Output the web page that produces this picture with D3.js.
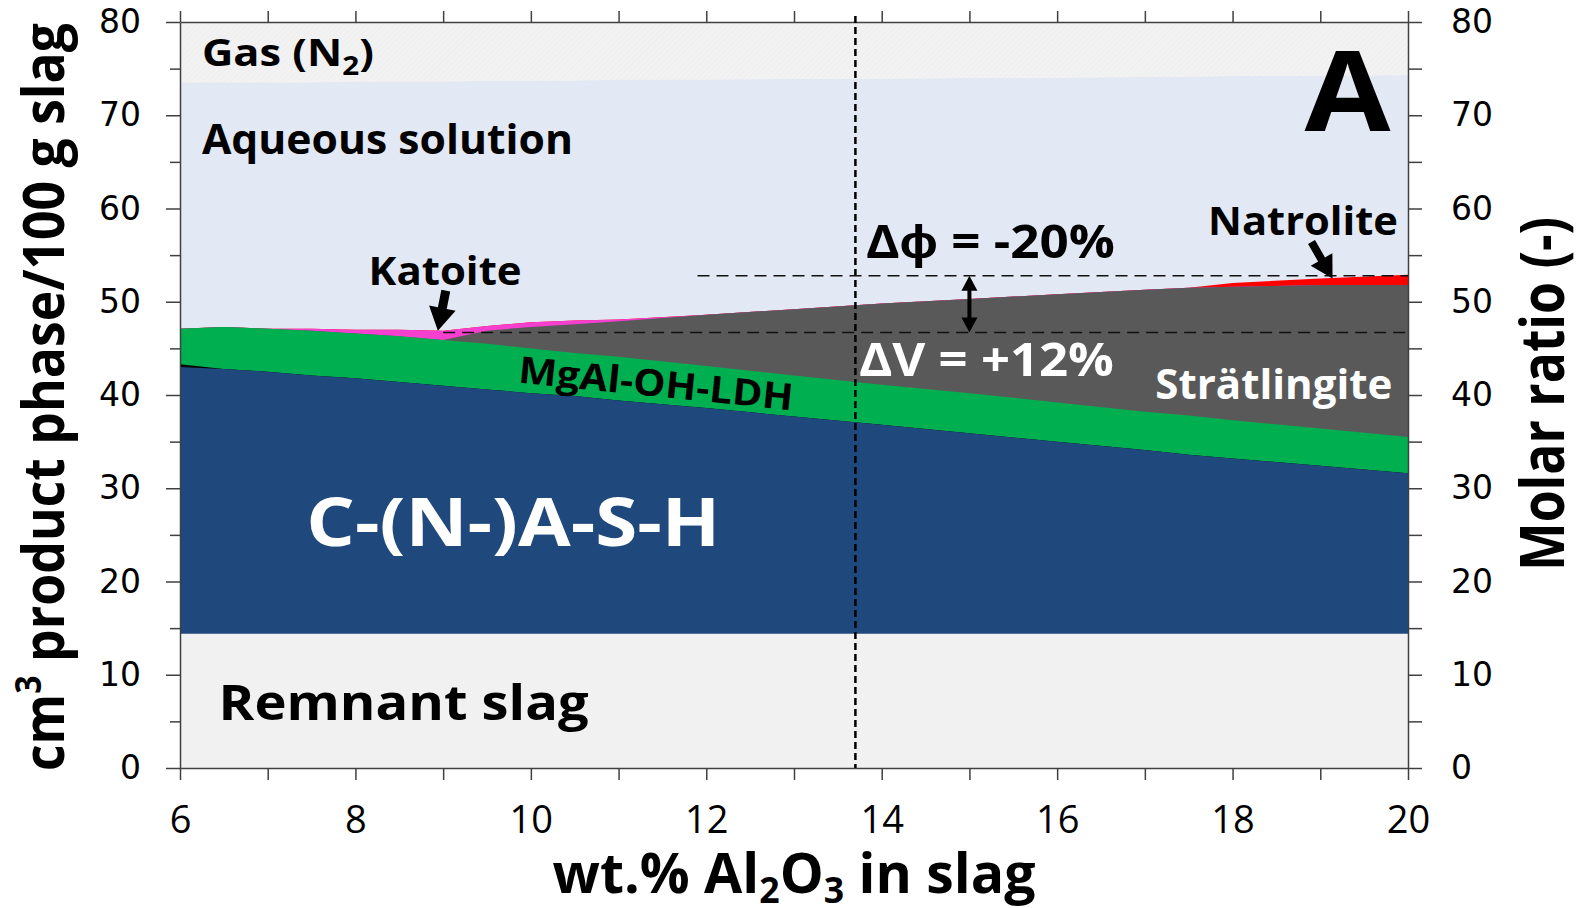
<!DOCTYPE html>
<html>
<head>
<meta charset="utf-8">
<script src="https://cdn.jsdelivr.net/npm/d3@7"></script>
<style>
	body { margin: 0; background: #fff; }
	svg { display: block; }
	.axis path, .axis line { stroke: #404040; stroke-width: 1.5; }
</style>
</head>
<body>
<div id="chart"></div>
<script>
// wt.% Al2O3 in slag
const xValues = [6, 6.5, 7, 7.5, 8, 8.5, 9, 9.5, 10, 10.5, 11, 12, 13, 14, 15, 16, 17, 17.5, 18, 19, 20];

// phase volumes, cm3 / 100 g slag (stacked from bottom)
const remnantSlag  = [14.4, 14.4, 14.4, 14.4, 14.4, 14.4, 14.4, 14.4, 14.4, 14.4, 14.4, 14.4, 14.4, 14.4, 14.4, 14.4, 14.4, 14.4, 14.4, 14.4, 14.4];
const cash         = [28.6, 28.4, 28.1, 27.7, 27.4, 27.0, 26.6, 26.2, 25.8, 25.5, 25.0, 24.2, 23.3, 22.4, 21.5, 20.6, 19.7, 19.2, 18.8, 18.0, 17.2];
const blackPhase   = [0.3, 0, 0, 0, 0, 0, 0, 0, 0, 0, 0, 0, 0, 0, 0, 0, 0, 0, 0, 0, 0];
const mgalLdh      = [3.8, 4.5, 4.6, 4.8, 4.8, 4.9, 4.9, 4.9, 4.8, 4.6, 4.7, 4.5, 4.4, 4.3, 4.3, 4.2, 4.1, 4.2, 4.1, 4.0, 3.9];
const stratlingite = [0, 0, 0, 0, 0, 0, 0, 1.4, 2.3, 3.1, 3.8, 5.5, 7.1, 8.7, 10.1, 11.6, 13.1, 13.7, 14.3, 15.4, 16.3];
const katoite      = [0, 0, 0, 0.2, 0.4, 0.7, 1.0, 0.5, 0.5, 0.4, 0.2, 0, 0, 0, 0, 0, 0, 0, 0, 0, 0];
const natrolite    = [0, 0, 0, 0, 0, 0, 0, 0, 0, 0, 0, 0, 0, 0, 0, 0, 0, 0, 0.4, 0.7, 1.1];
const aqueousTop   = [73.5, 73.5, 73.5, 73.5, 73.6, 73.6, 73.6, 73.7, 73.7, 73.7, 73.8, 73.8, 73.9, 73.9, 74.0, 74.0, 74.1, 74.1, 74.2, 74.2, 74.3];

const xTicks = [6, 8, 10, 12, 14, 16, 18, 20];
const yTicks = [0, 10, 20, 30, 40, 50, 60, 70, 80];

// annotation values
const refAl2O3 = 13.7;
const phiLevel = 52.8, phiStart = 11.9;
const vLevel = 46.7, vStart = 9.0;

const width = 1585, height = 908;
const margin = { top: 22, right: 177, bottom: 140, left: 180 };

const x = d3.scaleLinear().domain([6, 20]).range([margin.left, width - margin.right]);
const y = d3.scaleLinear().domain([0, 80]).range([height - margin.bottom, margin.top]);

const svg = d3.select("#chart").append("svg")
	.attr("width", width)
	.attr("height", height)
	.style("font-family", "'Open Sans', sans-serif");

const defs = svg.append("defs");
const hatch = defs.append("pattern")
	.attr("id", "hatch")
	.attr("patternUnits", "userSpaceOnUse")
	.attr("width", 4).attr("height", 4)
	.attr("patternTransform", "rotate(45)");
hatch.append("rect").attr("width", 4).attr("height", 4).attr("fill", "#f2f2f2");
hatch.append("line").attr("x1", 0).attr("y1", 0).attr("x2", 0).attr("y2", 4)
	.attr("stroke", "#eaeaea").attr("stroke-width", 1);

const rows = xValues.map((v, i) => {
	const solids = remnantSlag[i] + cash[i] + blackPhase[i] + mgalLdh[i] + stratlingite[i] + katoite[i] + natrolite[i];
	return {
		x: v,
		slag: remnantSlag[i],
		cash: cash[i],
		black: blackPhase[i],
		ldh: mgalLdh[i],
		strat: stratlingite[i],
		katoite: katoite[i],
		natrolite: natrolite[i],
		aqueous: aqueousTop[i] - solids,
		gas: 80 - aqueousTop[i]
	};
});

const keys = ["slag", "cash", "black", "ldh", "strat", "katoite", "natrolite", "aqueous", "gas"];
const colors = {
	slag: "#f1f1f1",
	cash: "#1f487c",
	black: "#000000",
	ldh: "#00b050",
	strat: "#595959",
	katoite: "#f43fcf",
	natrolite: "#ff0000",
	aqueous: "#e2e9f4",
	gas: "url(#hatch)"
};

const series = d3.stack().keys(keys)(rows);

// paint from the top layer down, each from 0 to its upper edge, so no seams show
const area = d3.area()
	.x(d => x(d.data.x))
	.y0(y(0))
	.y1(d => y(d[1]));

svg.append("g")
	.selectAll("path")
	.data(series.slice().reverse())
	.join("path")
	.attr("d", area)
	.attr("fill", d => colors[d.key]);

// axes
const minorY = d3.range(0, 81, 5);
const leftAxis = svg.append("g")
	.attr("class", "axis")
	.attr("transform", `translate(${margin.left},0)`)
	.call(d3.axisLeft(y).tickValues(minorY).tickSize(14).tickSizeOuter(0).tickPadding(25)
		.tickFormat(d => yTicks.includes(d) ? d : ""));
leftAxis.selectAll(".tick line").attr("x2", d => d % 10 === 0 ? -14 : -10);

svg.append("g")
	.attr("class", "axis")
	.attr("transform", `translate(${width - margin.right},0)`)
	.call(d3.axisRight(y).tickValues(minorY).tickSize(14).tickSizeOuter(0).tickPadding(29)
		.tickFormat(d => yTicks.includes(d) ? d : ""));

svg.append("g")
	.attr("class", "axis")
	.attr("transform", `translate(0,${margin.top})`)
	.call(d3.axisTop(x).tickValues(d3.range(6, 21)).tickSize(11).tickSizeOuter(0).tickFormat(""));

svg.append("g")
	.attr("class", "axis x-axis")
	.attr("transform", `translate(0,${height - margin.bottom})`)
	.call(d3.axisBottom(x).tickValues(d3.range(6, 21)).tickSize(12).tickSizeOuter(0).tickPadding(26)
		.tickFormat(d => xTicks.includes(d) ? d : ""));

svg.selectAll(".axis text")
	.attr("fill", "#000")
	.style("font-family", "'DejaVu Sans', sans-serif")
	.style("font-size", "33px");
svg.selectAll(".x-axis text")
	.style("font-family", "'Open Sans', sans-serif")
	.style("font-size", "38px");

// dashed reference lines
svg.append("line")
	.attr("x1", x(refAl2O3)).attr("x2", x(refAl2O3))
	.attr("y1", y(80) - 6).attr("y2", y(0))
	.attr("stroke", "#000").attr("stroke-width", 2.5).attr("stroke-dasharray", "7,4");

svg.append("line")
	.attr("x1", x(phiStart)).attr("x2", x(20))
	.attr("y1", y(phiLevel)).attr("y2", y(phiLevel))
	.attr("stroke", "#111").attr("stroke-width", 1.5).attr("stroke-dasharray", "12,7");

svg.append("line")
	.attr("x1", x(vStart)).attr("x2", x(20))
	.attr("y1", y(vLevel)).attr("y2", y(vLevel))
	.attr("stroke", "#111").attr("stroke-width", 1.5).attr("stroke-dasharray", "12,7");

// arrows
function arrowPoints(x1, y1, x2, y2, headLen, headW, shaftW, both) {
	const dx = x2 - x1, dy = y2 - y1, len = Math.hypot(dx, dy);
	const ux = dx / len, uy = dy / len, nx = -uy, ny = ux;
	const p = (a, b) => [x1 + ux * a + nx * b, y1 + uy * a + ny * b];
	const s = shaftW / 2, h = headW / 2;
	if (!both) {
		return [p(0, -s), p(len - headLen, -s), p(len - headLen, -h), p(len, 0),
			p(len - headLen, h), p(len - headLen, s), p(0, s)];
	}
	return [p(0, 0), p(headLen, -h), p(headLen, -s), p(len - headLen, -s), p(len - headLen, -h), p(len, 0),
		p(len - headLen, h), p(len - headLen, s), p(headLen, s), p(headLen, h)];
}
const arrows = [
	arrowPoints(x(9.03), y(51.2), x(8.94), y(46.9), 23, 27, 9, false),
	arrowPoints(x(18.9), y(56.4), x(19.14), y(52.5), 22, 25, 8, false),
	arrowPoints(x(15.0), y(phiLevel), x(15.0), y(vLevel), 15, 16, 4, true)
];
svg.append("g")
	.selectAll("polygon")
	.data(arrows)
	.join("polygon")
	.attr("points", d => d.map(p => p.join(",")).join(" "))
	.attr("fill", "#000");

// labels
const labels = [
	{ text: "Aqueous solution", x: 6.25, y: 65.8, size: 41, w: 371, color: "#000" },
	{ text: "Natrolite", x: 17.72, y: 57.2, size: 40, w: 190, color: "#000" },
	{ text: "Δϕ = -20%", x: 13.82, y: 54.7, size: 47, w: 249, color: "#000" },
	{ text: "Katoite", x: 8.15, y: 51.8, size: 40, w: 153, color: "#000" },
	{ text: "ΔV = +12%", x: 13.74, y: 42.0, size: 47, w: 255, color: "#fff" },
	{ text: "Strätlingite", x: 17.12, y: 39.6, size: 41, w: 237, color: "#fff" },
	{ text: "C-(N-)A-S-H", x: 7.44, y: 23.8, size: 66, w: 414, color: "#fff" },
	{ text: "Remnant slag", x: 6.44, y: 5.15, size: 48, w: 370, color: "#000" },
	{ text: "A", x: 18.82, y: 68.3, size: 112, w: 86, color: "#000" }
];
svg.append("g")
	.selectAll("text")
	.data(labels)
	.join("text")
	.attr("x", d => x(d.x))
	.attr("y", d => y(d.y))
	.attr("fill", d => d.color)
	.attr("font-weight", "bold")
	.attr("font-size", d => d.size)
	.attr("textLength", d => d.w)
	.attr("lengthAdjust", "spacingAndGlyphs")
	.text(d => d.text);

const gas = svg.append("text")
	.attr("x", x(6.25)).attr("y", y(75.3))
	.attr("font-weight", "bold").attr("font-size", 38)
	.attr("textLength", 172).attr("lengthAdjust", "spacingAndGlyphs");
gas.append("tspan").text("Gas (N");
gas.append("tspan").attr("font-size", 26).attr("dy", 9).text("2");
gas.append("tspan").attr("dy", -9).text(")");

svg.append("text")
	.attr("transform", `translate(${x(11.43)},${y(41.4)}) rotate(5.8)`)
	.attr("text-anchor", "middle")
	.attr("dominant-baseline", "central")
	.attr("font-weight", "bold").attr("font-size", 37)
	.attr("textLength", 276).attr("lengthAdjust", "spacingAndGlyphs")
	.text("MgAl-OH-LDH");

// axis titles
const yTitle = svg.append("text")
	.attr("transform", `translate(64,${(y(0) + y(80)) / 2 + 2}) rotate(-90)`)
	.attr("text-anchor", "middle")
	.attr("font-weight", "bold").attr("font-size", 58)
	.attr("textLength", 748).attr("lengthAdjust", "spacingAndGlyphs");
yTitle.append("tspan").text("cm");
yTitle.append("tspan").attr("font-size", 36).attr("dy", -23).text("3");
yTitle.append("tspan").attr("dy", 23).text(" product phase/100 g slag");

svg.append("text")
	.attr("transform", `translate(1564,394) rotate(-90)`)
	.attr("text-anchor", "middle")
	.attr("font-weight", "bold").attr("font-size", 60)
	.attr("textLength", 354).attr("lengthAdjust", "spacingAndGlyphs")
	.text("Molar ratio (-)");

const xTitle = svg.append("text")
	.attr("x", 794).attr("y", 893)
	.attr("text-anchor", "middle")
	.attr("font-weight", "bold").attr("font-size", 56)
	.attr("textLength", 483).attr("lengthAdjust", "spacingAndGlyphs");
xTitle.append("tspan").text("wt.% Al");
xTitle.append("tspan").attr("font-size", 36).attr("dy", 10).text("2");
xTitle.append("tspan").attr("dy", -10).text("O");
xTitle.append("tspan").attr("font-size", 36).attr("dy", 10).text("3");
xTitle.append("tspan").attr("dy", -10).text(" in slag");
</script>
</body>
</html>
